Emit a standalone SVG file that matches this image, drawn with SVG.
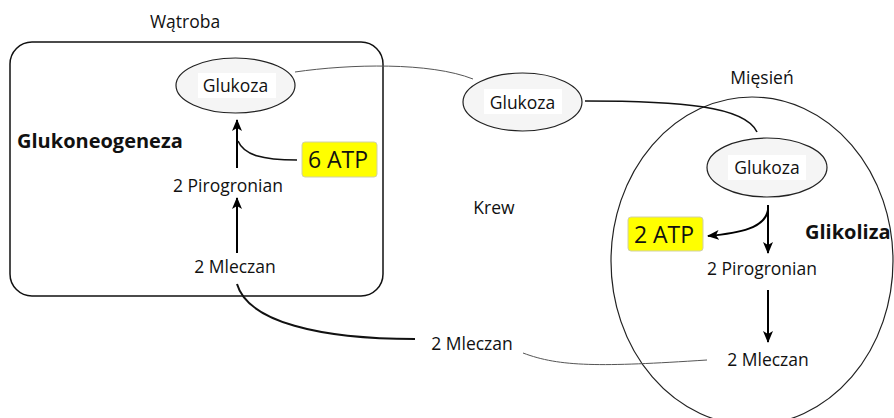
<svg xmlns="http://www.w3.org/2000/svg" width="894" height="418" viewBox="0 0 894 418">
<defs>
<marker id="ah" markerWidth="12" markerHeight="10" refX="11" refY="5" orient="auto" markerUnits="userSpaceOnUse">
<path d="M0,0 L12,5 L0,10 L3,5 Z" fill="#000"/>
</marker>
<style>
text{font-family:"Open Sans","Noto Sans","Liberation Sans",sans-serif;fill:#111;}
.t{font-size:17.5px;text-anchor:middle;}
.b{font-size:20px;font-weight:bold;}
.atp{font-size:23px;text-anchor:middle;}
.ell{fill:#f5f5f5;stroke:#222;stroke-width:1.2;}
.lab{fill:#fff;}
.atpbox{fill:#ffff00;stroke:#d0d0a8;stroke-width:1;}
.thin{fill:none;stroke:#555;stroke-width:1;}
.thick{fill:none;stroke:#111;stroke-width:1.6;}
.arr{fill:none;stroke:#000;stroke-width:2;marker-end:url(#ah);}
</style>
</defs>
<rect width="894" height="418" fill="#fff"/>

<g id="liver">
<rect x="10" y="42" width="373" height="254" rx="22" fill="none" stroke="#111" stroke-width="1.5"/>
<text x="185" y="28" class="t">Wątroba</text>
<text x="17" y="148" class="b">Glukoneogeneza</text>
</g>
<g id="muscle">
<ellipse cx="752" cy="261" rx="141" ry="164" fill="none" stroke="#222" stroke-width="1.2"/>
<text x="762" y="84" class="t">Mięsień</text>
<text x="805" y="239" class="b">Glikoliza</text>
</g>
<g id="blood">
<text x="494" y="214" class="t">Krew</text>
</g>

<g id="connectors">
<path class="thin" d="M295,72 C350,64 430,62 473,79"/>
<path class="thick" d="M585,101 C680,101 745,106 757,132"/>
<path class="arr" d="M237,168 L237,120"/>
<path class="thick" d="M297,160 C262,160 244,155 238,141"/>
<path class="arr" d="M237,253 L237,198"/>
<path class="thick" style="stroke-width:2" d="M237,284 C248,322 320,339 415,339"/>
<path class="thin" d="M523,353 C560,367 600,367 707,360"/>
<path class="arr" d="M768,205 L768,253"/>
<path class="arr" d="M768,210 C765,228 740,233 708,236"/>
<path class="arr" d="M768,290 L768,342"/>
</g>

<g id="glukoza-liver">
<ellipse cx="235.5" cy="85.5" rx="59.5" ry="27.5" class="ell"/>
<rect x="198" y="73" width="78" height="25" class="lab"/>
<text x="235.5" y="92" class="t">Glukoza</text>
</g>
<g id="glukoza-blood">
<ellipse cx="522.5" cy="102" rx="59.5" ry="29" class="ell"/>
<rect x="484" y="89" width="78" height="25" class="lab"/>
<text x="522.5" y="109" class="t">Glukoza</text>
</g>
<g id="glukoza-muscle">
<ellipse cx="767" cy="167.5" rx="60" ry="29.5" class="ell"/>
<rect x="728" y="155" width="78" height="25" class="lab"/>
<text x="767" y="174" class="t">Glukoza</text>
</g>
<g id="atp6">
<rect x="302" y="142" width="75" height="35" rx="3" class="atpbox"/>
<text x="338" y="168" class="atp">6 ATP</text>
</g>
<g id="atp2">
<rect x="628" y="217" width="75" height="34" rx="3" class="atpbox"/>
<text x="664" y="243" class="atp">2 ATP</text>
</g>
<g id="pirogronian-liver"><text x="228" y="192" class="t">2 Pirogronian</text></g>
<g id="mleczan-liver"><text x="235" y="273" class="t">2 Mleczan</text></g>
<g id="mleczan-blood"><text x="472" y="350" class="t">2 Mleczan</text></g>
<g id="pirogronian-muscle"><text x="762" y="275" class="t">2 Pirogronian</text></g>
<g id="mleczan-muscle"><text x="768" y="366" class="t">2 Mleczan</text></g>
</svg>
